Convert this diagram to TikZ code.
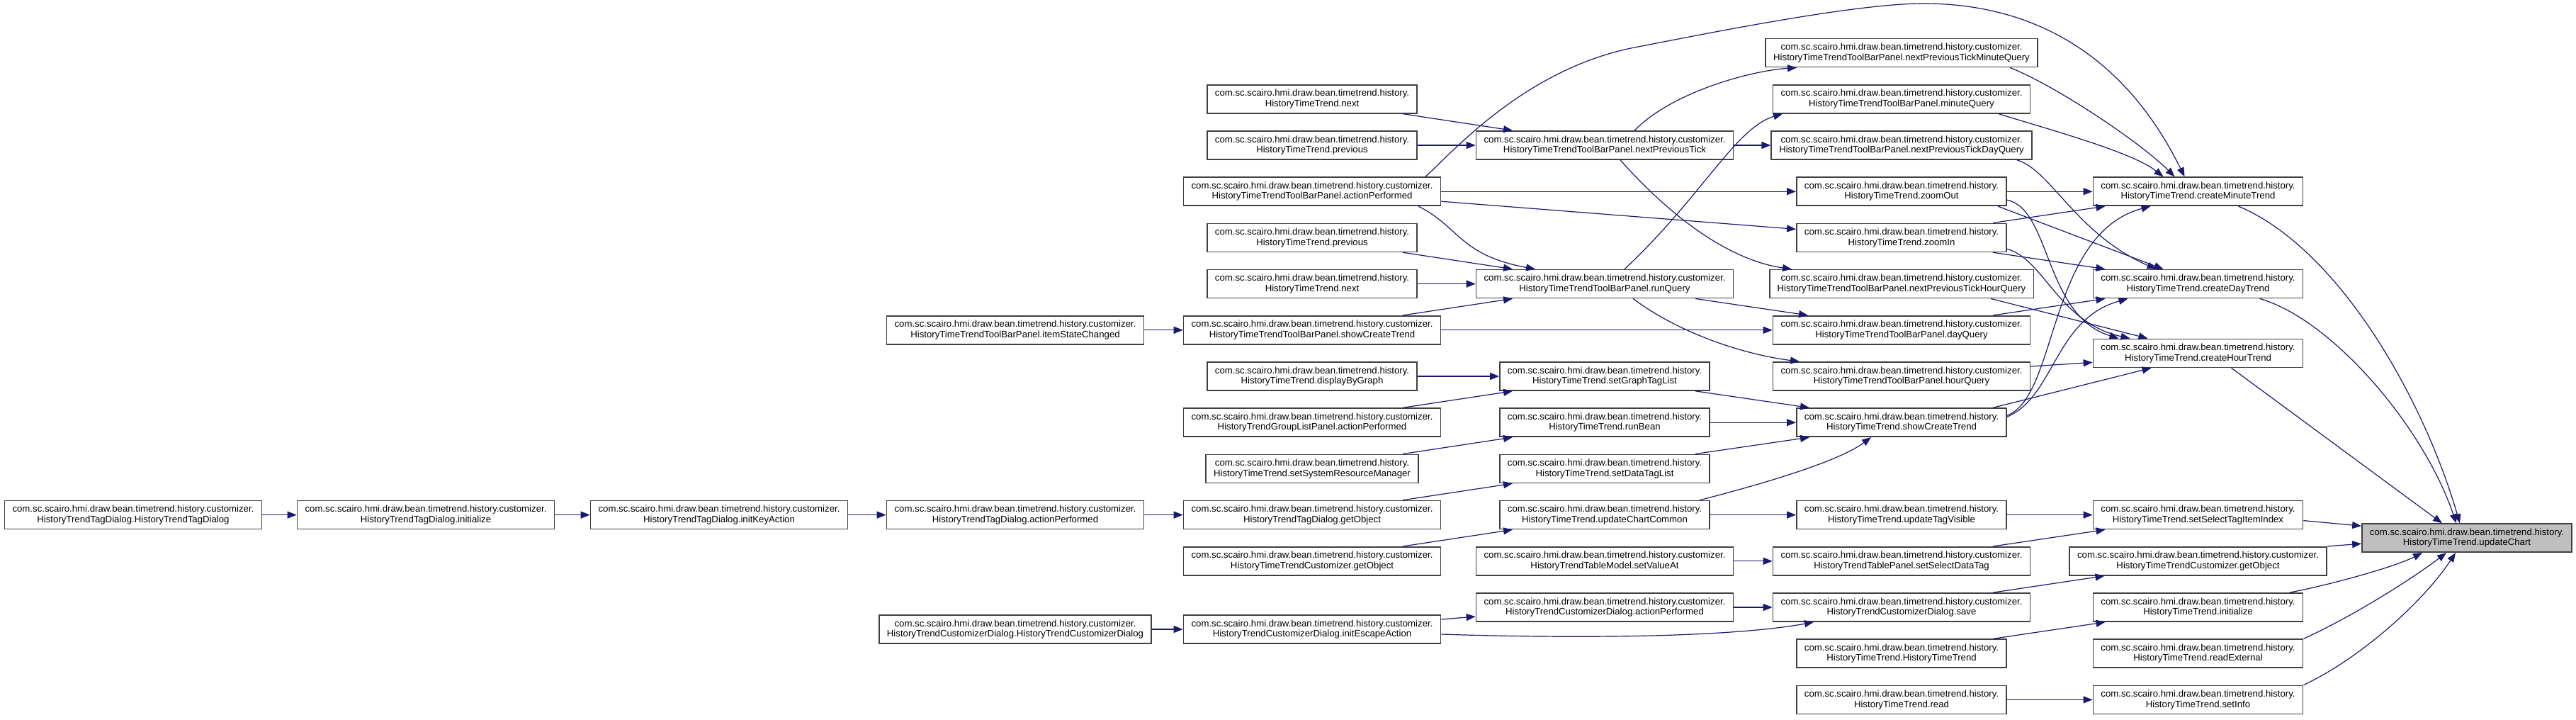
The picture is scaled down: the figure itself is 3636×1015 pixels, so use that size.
\documentclass[tikz,border=0pt]{standalone}
\usepackage{fontspec}
\setmainfont{Liberation Sans}
\usepackage{tikz}
\usetikzlibrary{arrows.meta}
\definecolor{edgeBlue}{HTML}{191970}
\definecolor{rootGray}{HTML}{BFBFBF}
\newcommand{\histPkg}{com.sc.scairo.hmi.draw.bean.timetrend.history.}
\newcommand{\custPkg}{com.sc.scairo.hmi.draw.bean.timetrend.history.customizer.}

\begin{document}
\begin{tikzpicture}[
  x=1pt, y=-1pt,
  font=\fontsize{13.2}{14.5}\selectfont,
  fn/.style={rectangle, draw=black!75, line width=1.7pt, fill=white,
    align=center, inner xsep=11pt, inner ysep=2pt, minimum height=40pt},
  root/.style={fn, fill=rootGray},
  arr/.style={-{Triangle[length=13pt,width=10pt]}, line width=1.2pt, draw=edgeBlue}
]
\useasboundingbox (0,0) rectangle (3636,1015);

% left chain
\node[fn] (tdCtor) at (188,726.6) {\custPkg\\HistoryTrendTagDialog.HistoryTrendTagDialog};
\node[fn] (tdInit) at (601,726.6) {\custPkg\\HistoryTrendTagDialog.initialize};
\node[fn] (tdKey)  at (1015,726.6) {\custPkg\\HistoryTrendTagDialog.initKeyAction};

\node[fn] (tbItem)   at (1433,465.8) {\custPkg\\HistoryTimeTrendToolBarPanel.itemStateChanged};
\node[fn] (tdAction) at (1433,726.6) {\custPkg\\HistoryTrendTagDialog.actionPerformed};
\node[fn] (cdCtor)   at (1433,888)   {\custPkg\\HistoryTrendCustomizerDialog.HistoryTrendCustomizerDialog};

% callers of the tool bar panel
\node[fn] (tNext1)   at (1852,139.8) {\histPkg\\HistoryTimeTrend.next};
\node[fn] (tPrev1)   at (1852,205)   {\histPkg\\HistoryTimeTrend.previous};
\node[fn] (tbAction) at (1852,270.2) {\custPkg\\HistoryTimeTrendToolBarPanel.actionPerformed};
\node[fn] (tPrev2)   at (1852,335.4) {\histPkg\\HistoryTimeTrend.previous};
\node[fn] (tNext2)   at (1852,400.6) {\histPkg\\HistoryTimeTrend.next};
\node[fn] (tbShow)   at (1852,465.8) {\custPkg\\HistoryTimeTrendToolBarPanel.showCreateTrend};
\node[fn] (tDisplay) at (1852,531)   {\histPkg\\HistoryTimeTrend.displayByGraph};
\node[fn] (glAction) at (1852,596.2) {\custPkg\\HistoryTrendGroupListPanel.actionPerformed};
\node[fn] (tSysRes)  at (1852,661.4) {\histPkg\\HistoryTimeTrend.setSystemResourceManager};
\node[fn] (tdGet)    at (1852,726.6) {\custPkg\\HistoryTrendTagDialog.getObject};
\node[fn] (tcGet1)   at (1852,791.8) {\custPkg\\HistoryTimeTrendCustomizer.getObject};
\node[fn] (cdEsc)    at (1852,888)   {\custPkg\\HistoryTrendCustomizerDialog.initEscapeAction};

\node[fn] (tbTick)       at (2265,205)   {\custPkg\\HistoryTimeTrendToolBarPanel.nextPreviousTick};
\node[fn] (tbRun)        at (2265,400.6) {\custPkg\\HistoryTimeTrendToolBarPanel.runQuery};
\node[fn] (tGraph)       at (2265,531)   {\histPkg\\HistoryTimeTrend.setGraphTagList};
\node[fn] (tRunBean)     at (2265,596.2) {\histPkg\\HistoryTimeTrend.runBean};
\node[fn] (tDataTag)     at (2265,661.4) {\histPkg\\HistoryTimeTrend.setDataTagList};
\node[fn] (tChartCommon) at (2265,726.6) {\histPkg\\HistoryTimeTrend.updateChartCommon};
\node[fn] (tmSetValue)   at (2265,791.8) {\custPkg\\HistoryTrendTableModel.setValueAt};
\node[fn] (cdAction)     at (2265,857)   {\custPkg\\HistoryTrendCustomizerDialog.actionPerformed};

\node[fn] (tbTickMin)  at (2684,74.6)  {\custPkg\\HistoryTimeTrendToolBarPanel.nextPreviousTickMinuteQuery};
\node[fn] (tbMinute)   at (2684,139.8) {\custPkg\\HistoryTimeTrendToolBarPanel.minuteQuery};
\node[fn] (tbTickDay)  at (2684,205)   {\custPkg\\HistoryTimeTrendToolBarPanel.nextPreviousTickDayQuery};
\node[fn] (tZoomOut)   at (2684,270.2) {\histPkg\\HistoryTimeTrend.zoomOut};
\node[fn] (tZoomIn)    at (2684,335.4) {\histPkg\\HistoryTimeTrend.zoomIn};
\node[fn] (tbTickHour) at (2684,400.6) {\custPkg\\HistoryTimeTrendToolBarPanel.nextPreviousTickHourQuery};
\node[fn] (tbDay)      at (2684,465.8) {\custPkg\\HistoryTimeTrendToolBarPanel.dayQuery};
\node[fn] (tbHour)     at (2684,531)   {\custPkg\\HistoryTimeTrendToolBarPanel.hourQuery};
\node[fn] (tShow)      at (2684,596.2) {\histPkg\\HistoryTimeTrend.showCreateTrend};
\node[fn] (tTagVis)    at (2684,726.6) {\histPkg\\HistoryTimeTrend.updateTagVisible};
\node[fn] (tpSelect)   at (2684,791.8) {\custPkg\\HistoryTrendTablePanel.setSelectDataTag};
\node[fn] (cdSave)     at (2684,857)   {\custPkg\\HistoryTrendCustomizerDialog.save};
\node[fn] (tCtor)      at (2684,922.2) {\histPkg\\HistoryTimeTrend.HistoryTimeTrend};
\node[fn] (tRead)      at (2684,987.4) {\histPkg\\HistoryTimeTrend.read};

\node[fn] (tMinute)  at (3102.5,270.2) {\histPkg\\HistoryTimeTrend.createMinuteTrend};
\node[fn] (tDay)     at (3102.5,400.6) {\histPkg\\HistoryTimeTrend.createDayTrend};
\node[fn] (tHour)    at (3102.5,498.4) {\histPkg\\HistoryTimeTrend.createHourTrend};
\node[fn] (tSelIdx)  at (3102.5,726.6) {\histPkg\\HistoryTimeTrend.setSelectTagItemIndex};
\node[fn] (tcGet2)   at (3102.5,791.8) {\custPkg\\HistoryTimeTrendCustomizer.getObject};
\node[fn] (tInit)    at (3102.5,857)   {\histPkg\\HistoryTimeTrend.initialize};
\node[fn] (tReadExt) at (3102.5,922.2) {\histPkg\\HistoryTimeTrend.readExternal};
\node[fn] (tSetInfo) at (3102.5,987.4) {\histPkg\\HistoryTimeTrend.setInfo};

\node[root] (tUpdate) at (3482,759.2) {\histPkg\\HistoryTimeTrend.updateChart};

% left chain
\draw[arr] (tdCtor.east) -- (tdInit.west);
\draw[arr] (tdInit.east) -- (tdKey.west);
\draw[arr] (tdKey.east) -- (tdAction.west);
\draw[arr] (tdAction.east) -- (tdGet.west);
\draw[arr] (tbItem.east) -- (tbShow.west);
\draw[arr] (cdCtor.east) -- (cdEsc.west);

% into the fifth column
\draw[arr] ([xshift=128pt]tNext1.south) -- ([xshift=-130pt]tbTick.north);
\draw[arr] (tPrev1.east) -- (tbTick.west);
\draw[arr] ([xshift=150pt]tbAction.south) .. controls (2060,320) and (2060,360) .. ([xshift=-98pt]tbRun.north);
\draw[arr] ([xshift=128pt]tPrev2.south) -- ([xshift=-130pt]tbRun.north);
\draw[arr] (tNext2.east) -- (tbRun.west);
\draw[arr] ([xshift=128pt]tbShow.north) -- ([xshift=-130pt]tbRun.south);
\draw[arr] (tDisplay.east) -- (tGraph.west);
\draw[arr] ([xshift=128pt]glAction.north) -- ([xshift=-130pt]tGraph.south);
\draw[arr] ([xshift=128pt]tSysRes.north) -- ([xshift=-130pt]tRunBean.south);
\draw[arr] ([xshift=128pt]tdGet.north) -- ([xshift=-130pt]tDataTag.south);
\draw[arr] ([xshift=128pt]tcGet1.north) -- ([xshift=-130pt]tChartCommon.south);
\draw[arr] ([yshift=14pt]cdEsc.east) -- ([yshift=-13pt]cdAction.west);

% into the sixth column
\draw[arr] (tbAction.east) -- (tZoomOut.west);
\draw[arr] ([yshift=-14pt]tbAction.east) -- ([yshift=12pt]tZoomIn.west);
\draw[arr] (tbShow.east) -- (tbDay.west);
\draw[arr] ([xshift=42pt]tbTick.north) .. controls (2360,130) and (2470,100) .. ([xshift=-148pt]tbTickMin.south);
\draw[arr] (tbTick.east) -- (tbTickDay.west);
\draw[arr] ([xshift=22pt]tbTick.south) .. controls (2380,330) and (2460,370) .. ([xshift=-155pt]tbTickHour.north);
\draw[arr] ([xshift=28pt]tbRun.north) .. controls (2400,280) and (2450,180) .. ([xshift=-168pt]tbMinute.south);
\draw[arr] ([xshift=128pt]tbRun.south) -- ([xshift=-132pt]tbDay.north);
\draw[arr] ([xshift=40pt]tbRun.south) .. controls (2370,470) and (2460,500) .. ([xshift=-144pt]tbHour.north);
\draw[arr] ([xshift=128pt]tGraph.south) -- ([xshift=-130pt]tShow.north);
\draw[arr] (tRunBean.east) -- (tShow.west);
\draw[arr] ([xshift=128pt]tDataTag.north) -- ([xshift=-130pt]tShow.south);
\draw[arr] ([xshift=134pt]tChartCommon.north) .. controls (2460,690) and (2590,655) .. ([xshift=-43pt]tShow.south);
\draw[arr] (tChartCommon.east) -- (tTagVis.west);
\draw[arr] (tmSetValue.east) -- (tpSelect.west);
\draw[arr] (cdAction.east) -- (cdSave.west);
\draw[arr] ([yshift=-7pt]cdEsc.east) .. controls (2250,902) and (2450,898) .. ([xshift=-124pt]cdSave.south);

% into the create*Trend column
\draw[arr] ([xshift=160pt]tbAction.north) .. controls (2050,215) and (2150,100) .. (2302,68)
  .. controls (2420,45) and (2620,5) .. (2715,5)
  .. controls (2850,5) and (2990,60) .. ([xshift=-19pt]tMinute.north);
\draw[arr] ([xshift=153pt]tbTickMin.south) .. controls (2900,120) and (3020,200) .. ([xshift=-33pt]tMinute.north);
\draw[arr] ([xshift=137pt]tbMinute.south) .. controls (2900,185) and (3010,215) .. ([xshift=-49pt]tMinute.north);
\draw[arr] (tZoomOut.east) -- (tMinute.west);
\draw[arr] ([xshift=129pt]tZoomIn.north) -- ([xshift=-131pt]tMinute.south);
\draw[arr] ([yshift=10pt]tShow.east) .. controls (2905,560) and (2890,330) .. ([xshift=-67pt]tMinute.south);
\draw[arr] ([xshift=163pt]tbTickDay.south) .. controls (2895,240) and (2930,330) .. ([xshift=-59pt]tDay.north);
\draw[arr] ([xshift=136pt]tZoomOut.south) -- ([xshift=-49pt]tDay.north);
\draw[arr] ([xshift=129pt]tZoomIn.south) -- ([xshift=-131pt]tDay.north);
\draw[arr] ([xshift=129pt]tbDay.north) -- ([xshift=-131pt]tDay.south);
\draw[arr] ([yshift=8pt]tShow.east) .. controls (2900,560) and (2900,450) .. ([xshift=-99pt]tDay.south);
\draw[arr] ([yshift=-12pt]tZoomOut.east) .. controls (2895,295) and (2885,445) .. ([xshift=-112pt]tHour.north);
\draw[arr] ([yshift=-16pt]tZoomIn.east) .. controls (2885,365) and (2905,455) .. ([xshift=-96pt]tHour.north);
\draw[arr] ([xshift=126pt]tbTickHour.south) -- ([xshift=-71pt]tHour.north);
\draw[arr] ([yshift=14pt]tbHour.east) -- ([yshift=-13pt]tHour.west);
\draw[arr] ([xshift=129pt]tShow.north) -- ([xshift=-66pt]tHour.south);
\draw[arr] (tTagVis.east) -- (tSelIdx.west);
\draw[arr] ([xshift=129pt]tpSelect.north) -- ([xshift=-131pt]tSelIdx.south);
\draw[arr] ([xshift=129pt]cdSave.north) -- ([xshift=-132pt]tcGet2.south);
\draw[arr] ([xshift=129pt]tCtor.north) -- ([xshift=-131pt]tInit.south);
\draw[arr] (tRead.east) -- (tSetInfo.west);

% into updateChart
\draw[arr] ([xshift=57pt]tMinute.south) .. controls (3300,350) and (3420,560) .. ([xshift=-10pt]tUpdate.north);
\draw[arr] ([xshift=87pt]tDay.south) .. controls (3290,450) and (3420,600) .. ([xshift=-15pt]tUpdate.north);
\draw[arr] ([xshift=47pt]tHour.south) -- ([xshift=-35pt]tUpdate.north);
\draw[arr] ([yshift=-8pt]tSelIdx.east) -- ([yshift=17pt]tUpdate.west);
\draw[arr] (tcGet2.north east) -- ([yshift=-8pt]tUpdate.west);
\draw[arr] ([xshift=129pt]tInit.north) .. controls (3290,825) and (3380,800) .. ([xshift=-63pt]tUpdate.south);
\draw[arr] (tReadExt.north east) .. controls (3320,870) and (3400,820) .. ([xshift=-29pt]tUpdate.south);
\draw[arr] (tSetInfo.north east) .. controls (3330,930) and (3420,850) .. ([xshift=-16pt]tUpdate.south);

\end{tikzpicture}
\end{document}
